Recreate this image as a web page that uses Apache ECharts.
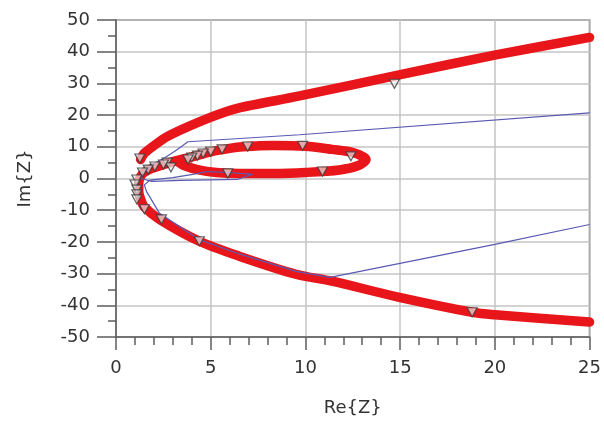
<!DOCTYPE html>
<html>
<head>
<meta charset="utf-8">
<script src="https://cdn.jsdelivr.net/npm/echarts@6/dist/echarts.min.js"></script>
<style>
  html, body { margin: 0; padding: 0; background: #fff; }
  #chart { width: 604px; height: 422px; }
</style>
</head>
<body>
<div id="chart"></div>
<script>
// ---- Data (Re{Z}, Im{Z}) ----
var redLowerLoop = [
  [25, -45.3], [20, -43], [18.8, -42.2], [14.9, -37.4], [11.4, -32.4], [9.5, -30.2],
  [6.5, -24.5], [4.4, -19.8], [2.3, -12.9], [1.5, -9], [1.3, -6.5], [1.2, -4],
  [1.2, -2], [1.25, 0], [1.5, 2], [2.2, 3.8], [3.1, 5.5], [4, 6.8], [5, 8.4],
  [6, 9.5], [6.7, 10], [8.3, 10.4], [10, 10.2], [11.4, 9.2], [12.5, 8.2],
  [13.2, 6], [12.8, 4.1], [11.8, 2.7], [10, 1.9], [8.3, 1.6], [6.5, 1.6],
  [5.3, 1.9], [4.3, 2.8], [3.6, 4.1], [3.3, 5.2]
];
var redUpper = [
  [1.3, 6], [1.5, 8], [2.7, 13.2], [4.95, 19.2], [6.5, 22.3], [9.5, 25.8],
  [14.95, 32.7], [20.05, 39], [25, 44.5]
];
var bluePath = [
  [25, 20.7], [9.7, 13.8], [3.8, 11.6], [3.2, 9], [2.6, 6.6], [1.8, 4],
  [1.4, 2], [1.3, 0], [1.9, -0.9], [3.4, -0.6], [6.4, -0.3], [7.2, 1.3],
  [6, 1.9], [4.8, 2.2], [4.05, 1.3], [3, 0.3], [1.8, -0.5], [1.5, -2],
  [1.6, -4], [2.3, -11], [4.4, -19.3], [6.5, -23.8], [9.5, -29.3],
  [11.3, -31.2], [20, -20.8], [25, -14.5]
];
var markers = [
  [1.26, 6.3], [14.7, 29.9], [18.8, -42.2], [6.95, 10.1], [9.85, 10.3],
  [12.4, 7], [10.9, 2.2], [5.9, 1.6], [5.6, 9.2], [5, 8.5], [4.6, 7.9],
  [4.3, 7.2], [4, 6.6], [3.8, 6], [2.7, 5], [2.9, 3.5], [2.5, 4.4],
  [2.05, 3.8], [1.7, 2.8], [1.4, 1.9], [1.1, -0.3], [1, -1.9], [1.1, -3.5],
  [1.1, -5], [1.1, -6.6], [1.5, -9.7], [2.4, -12.9], [4.4, -19.8]
];
var xTicks = { min: 0, max: 25, interval: 5 };
var yTicks = { min: -50, max: 50, interval: 10 };

var chart = echarts.init(document.getElementById('chart'), null, { renderer: 'canvas' });
var font = '"DejaVu Sans", Verdana, sans-serif';
var axisCol = '#5e5e5e';
var gridCol = '#c4c4c4';
var textCol = '#333';

var redStyle = { color: '#e8161b', width: 9.5, cap: 'round', join: 'round' };

chart.setOption({
  animation: false,
  backgroundColor: '#fff',
  grid: { left: 116, right: 13, top: 20, bottom: 83, show: true,
          borderColor: axisCol, borderWidth: 1.5, backgroundColor: 'transparent' },
  xAxis: {
    type: 'value', min: xTicks.min, max: xTicks.max, interval: xTicks.interval,
    name: 'Re{Z}', nameLocation: 'middle', nameGap: 62,
    nameTextStyle: { fontFamily: font, fontSize: 18, color: textCol },
    axisLine: { show: true, onZero: false, lineStyle: { color: axisCol, width: 1.5 } },
    axisTick: { show: true, length: 13, lineStyle: { color: axisCol, width: 1.5 } },
    minorTick: { show: true, splitNumber: 5, length: 8, lineStyle: { color: axisCol, width: 1.5 } },
    axisLabel: { fontFamily: font, fontSize: 18, color: textCol, margin: 22 },
    splitLine: { show: true, lineStyle: { color: gridCol, width: 1.5 } }
  },
  yAxis: {
    type: 'value', min: yTicks.min, max: yTicks.max, interval: yTicks.interval,
    name: 'Im{Z}', nameLocation: 'middle', nameGap: 82, nameRotate: 90,
    nameTextStyle: { fontFamily: font, fontSize: 18, color: textCol },
    axisLine: { show: true, onZero: false, lineStyle: { color: axisCol, width: 1.5 } },
    axisTick: { show: true, length: 19, lineStyle: { color: axisCol, width: 1.5 } },
    minorTick: { show: true, splitNumber: 2, length: 8, lineStyle: { color: axisCol, width: 1.5 } },
    axisLabel: { fontFamily: font, fontSize: 18, color: textCol, margin: 26 },
    splitLine: { show: true, lineStyle: { color: gridCol, width: 1.5 } }
  },
  series: [
    { type: 'line', data: redLowerLoop, showSymbol: false, smooth: 0.3,
      lineStyle: redStyle, z: 2 },
    { type: 'line', data: redUpper, showSymbol: false, smooth: 0.2,
      lineStyle: redStyle, z: 2 },
    { type: 'line', data: bluePath, showSymbol: false, smooth: false,
      lineStyle: { color: '#5a5ab4', width: 1.2 }, z: 3 },
    { type: 'scatter', data: markers, symbol: 'triangle', symbolRotate: 180,
      symbolSize: [10, 9],
      itemStyle: { color: 'rgba(235,235,235,0.85)', borderColor: '#3a3a3a', borderWidth: 1.2 },
      z: 4 }
  ]
});
</script>
</body>
</html>
